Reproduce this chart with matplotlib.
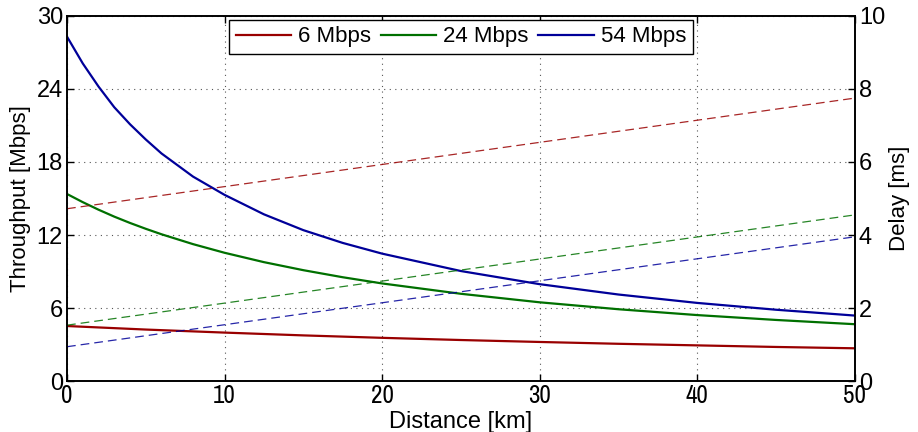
import matplotlib
matplotlib.use("Agg")
import matplotlib.pyplot as plt
from matplotlib import font_manager

plt.rcParams['font.family'] = ['Liberation Sans', 'DejaVu Sans']

# throughput curves [Mbps] vs distance [km]
dist = [0, 1, 2, 3, 4, 5, 6, 8, 10, 12.5, 15, 17.5, 20, 25, 30, 35, 40, 45, 50]
thr_54 = [28.3, 26.1, 24.2, 22.5, 21.1, 19.85, 18.7, 16.8, 15.3, 13.7, 12.4,
          11.35, 10.47, 9.04, 7.96, 7.11, 6.42, 5.86, 5.38]
thr_24 = [15.37, 14.7, 14.08, 13.51, 12.99, 12.51, 12.06, 11.25, 10.54, 9.77,
          9.11, 8.53, 8.02, 7.17, 6.47, 5.9, 5.42, 5.02, 4.67]
dist_6 = [0, 5, 10, 15, 20, 25, 30, 35, 40, 45, 50]
thr_6 = [4.52, 4.23, 3.98, 3.75, 3.55, 3.37, 3.21, 3.06, 2.93, 2.8, 2.69]

# delay [ms], straight lines
dist_d = [0, 50]
delay_6 = [4.72, 7.75]
delay_24 = [1.53, 4.55]
delay_54 = [0.94, 3.95]

labels = ['6 Mbps', '24 Mbps', '54 Mbps']
c_red = '#990000'
c_green = '#007000'
c_blue = '#000099'

fig = plt.figure(figsize=(9.18, 4.32), dpi=100)
ax = fig.add_axes([0.073, 0.118, 0.858, 0.845])
ax2 = ax.twinx()

l1, = ax.plot(dist_6, thr_6, color=c_red, lw=1.6)
l2, = ax.plot(dist, thr_24, color=c_green, lw=1.6)
l3, = ax.plot(dist, thr_54, color=c_blue, lw=1.6)

ax2.plot(dist_d, delay_6, color=c_red, lw=0.9, ls=(0, (7, 4)), alpha=0.85)
ax2.plot(dist_d, delay_24, color=c_green, lw=0.9, ls=(0, (7, 4)), alpha=0.85)
ax2.plot(dist_d, delay_54, color=c_blue, lw=0.9, ls=(0, (7, 4)), alpha=0.85)

ax.set_xlim(0, 50)
ax.set_ylim(0, 30)
ax2.set_ylim(0, 10)
ax.set_xticks(range(0, 51, 10))
ax.set_yticks(range(0, 31, 6))
ax2.set_yticks(range(0, 11, 2))

ax.grid(True, color='#555555', ls=(0, (1, 4)), lw=0.8)

narrow = None
for f in font_manager.fontManager.ttflist:
    if 'Narrow' in f.name or 'Condensed' in f.name:
        narrow = f.name
        break

ax.tick_params(axis='both', direction='in', length=5, width=1, labelsize=17,
               top=True, pad=3)
ax.tick_params(axis='x', pad=2)
ax2.tick_params(axis='y', direction='in', length=5, width=1, labelsize=17, pad=3)
for t in ax.get_xticklabels():
    t.set_fontsize(18)
    if narrow:
        t.set_family(narrow)

for a in (ax, ax2):
    for s in a.spines.values():
        s.set_linewidth(1.2)
        s.set_color('black')

ax.set_xlabel('Distance [km]', fontsize=17, labelpad=3)
ax.set_ylabel('Throughput [Mbps]', fontsize=16, labelpad=4)
ax2.set_ylabel('Delay [ms]', fontsize=16, labelpad=3)

leg = ax2.legend([l1, l2, l3], labels, loc='upper center',
                 bbox_to_anchor=(0.5, 0.99), ncol=3, fontsize=16,
                 fancybox=False, framealpha=1, edgecolor='black',
                 handlelength=2.5, handletextpad=0.3, columnspacing=0.45,
                 borderpad=0.3, borderaxespad=0)
leg.get_frame().set_linewidth(1.0)

fig.savefig('out.png', dpi=100)
